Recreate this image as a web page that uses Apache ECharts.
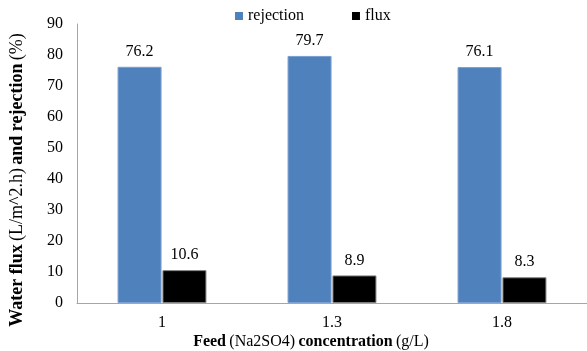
<!DOCTYPE html>
<html>
<head>
<meta charset="utf-8">
<script src="https://cdn.jsdelivr.net/npm/echarts@6/dist/echarts.min.js"></script>
<style>
  html, body { margin: 0; padding: 0; background: #fff; }
  #chart { width: 587px; height: 351px; }
</style>
</head>
<body>
<div id="chart"></div>
<script>
// Feed concentrations (g/L) on the category axis
const categories = ['1', '1.3', '1.8'];
// Salt rejection (%) and water flux (L/m^2.h) per feed concentration
const rejection = [76.2, 79.7, 76.1];
const flux = [10.6, 8.9, 8.3];
// Value axis range
const yMin = 0;
const yMax = 90;
const yStep = 10;

const serif = '"Liberation Serif", "Times New Roman", serif';

const chart = echarts.init(document.getElementById('chart'), null, { renderer: 'canvas' });

chart.setOption({
  animation: false,
  textStyle: { fontFamily: serif },
  grid: { left: 77, right: 0, top: 24, bottom: 48, containLabel: false },
  legend: {
    data: ['rejection', 'flux'],
    top: 8,
    left: 235,
    padding: 0,
    itemWidth: 8,
    itemHeight: 8,
    itemGap: 48,
    icon: 'rect',
    itemStyle: { borderWidth: 0 },
    textStyle: { fontFamily: serif, fontSize: 16, color: '#000' }
  },
  xAxis: {
    type: 'category',
    data: categories,
    axisLine: { lineStyle: { color: '#a6a6a6', width: 1 } },
    axisTick: { show: false },
    axisLabel: { fontFamily: serif, fontSize: 16, color: '#000', margin: 12 }
  },
  yAxis: {
    type: 'value',
    min: yMin,
    max: yMax,
    interval: yStep,
    axisLine: { show: true, lineStyle: { color: '#a6a6a6', width: 1 } },
    axisTick: { show: false },
    splitLine: { show: false },
    axisLabel: { fontFamily: serif, fontSize: 16, color: '#000', margin: 14 }
  },
  series: [
    {
      name: 'rejection',
      type: 'bar',
      data: rejection,
      barWidth: 44,
      barGap: '2%',
      itemStyle: { color: '#4f81bd', borderColor: '#7a9fd0', borderWidth: 1 },
      label: { show: true, position: 'top', distance: 7, fontFamily: serif, fontSize: 16, color: '#000' }
    },
    {
      name: 'flux',
      type: 'bar',
      data: flux,
      barWidth: 44,
      itemStyle: { color: '#000000', borderColor: '#808080', borderWidth: 1 },
      label: { show: true, position: 'top', distance: 7, fontFamily: serif, fontSize: 16, color: '#000' }
    }
  ],
  graphic: [
    {
      type: 'text',
      x: 311,
      y: 342,
      style: {
        text: '{b|Feed} {n|(Na2SO4)} {b|concentration} {n|(g/L)}',
        align: 'center',
        verticalAlign: 'middle',
        rich: {
          b: { fontFamily: serif, fontSize: 16, fontWeight: 'bold', fill: '#000' },
          n: { fontFamily: serif, fontSize: 16, fill: '#000' }
        }
      }
    },
    {
      type: 'text',
      x: 17,
      y: 180,
      rotation: Math.PI / 2,
      style: {
        text: '{b|Water flux} {n|(L/m^2.h)} {b|and rejection} {n|(%)}',
        align: 'center',
        verticalAlign: 'middle',
        rich: {
          b: { fontFamily: serif, fontSize: 18, fontWeight: 'bold', fill: '#000' },
          n: { fontFamily: serif, fontSize: 18, fill: '#000' }
        }
      }
    }
  ]
});
</script>
</body>
</html>
